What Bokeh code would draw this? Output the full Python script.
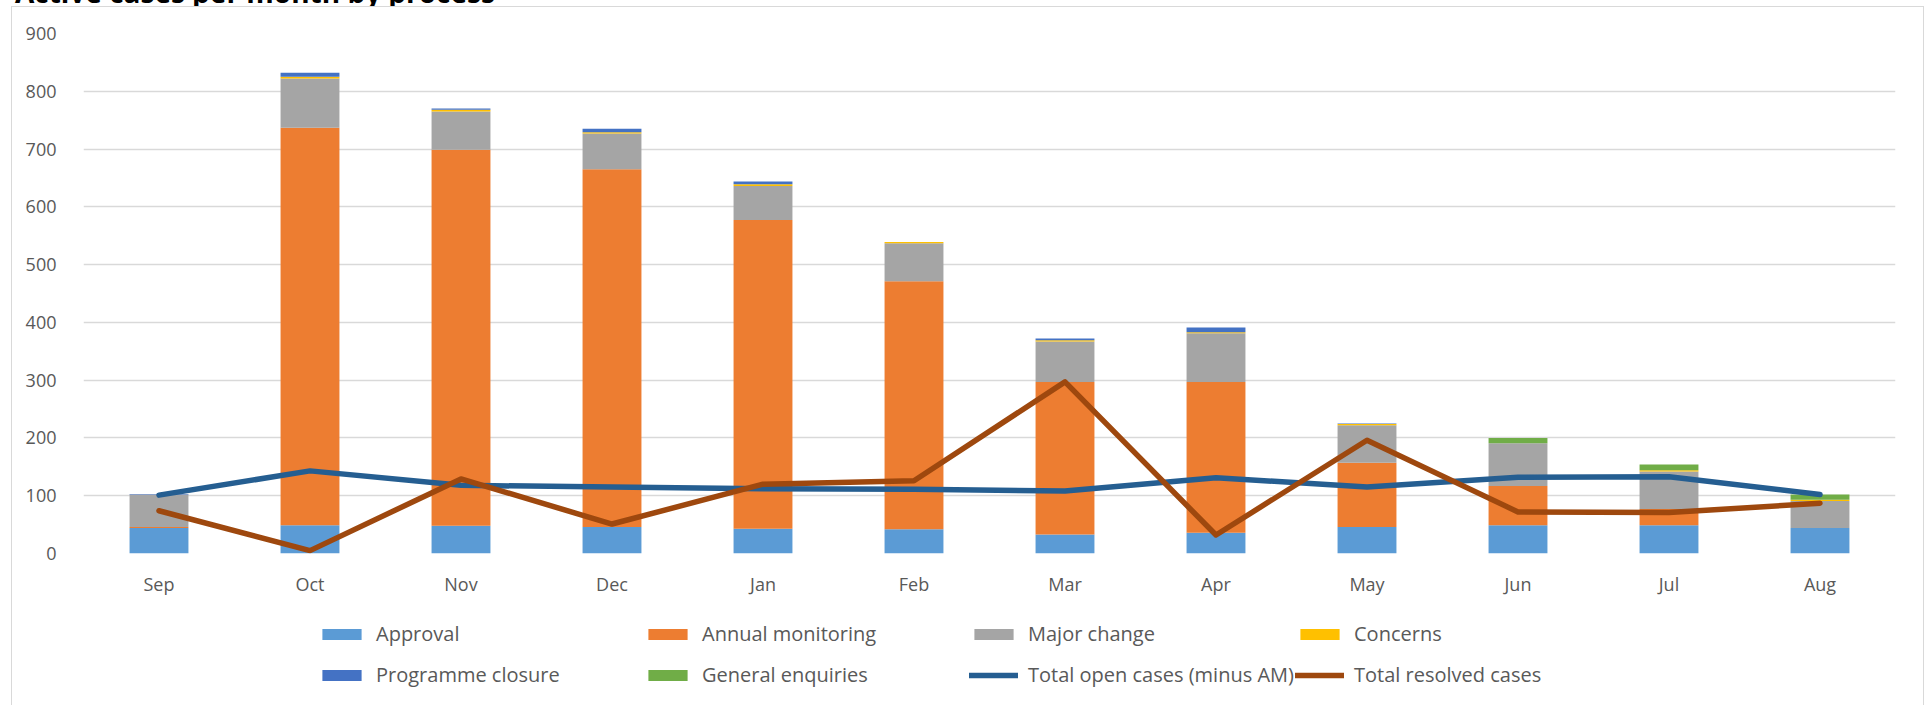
from bokeh.plotting import figure
from bokeh.layouts import column
from bokeh.models import (ColumnDataSource, FactorRange, Range1d, FixedTicker, Legend,
                          LegendItem, Div)
from bokeh.embed import file_html
from bokeh.resources import INLINE

months = ["Sep", "Oct", "Nov", "Dec", "Jan", "Feb", "Mar", "Apr", "May", "Jun", "Jul", "Aug"]
approval = [44, 49, 48, 46, 43, 42, 33, 36, 46, 49, 49, 44]
annual_monitoring = [2, 688, 651, 619, 534, 429, 264, 261, 111, 68, 28, 0]
major_change = [56, 85, 66, 62, 59, 66, 70, 84, 65, 74, 65, 47]
concerns = [0, 3, 3, 2, 3, 2, 2, 2, 2, 0, 2, 2]
programme_closure = [1, 7, 2, 6, 5, 0, 3, 8, 1, 0, 0, 0]
general_enquiries = [0, 0, 0, 0, 0, 0, 0, 0, 0, 9, 10, 9]
total_open = [101, 143, 118, 115, 112, 111, 108, 131, 115, 132, 133, 102]
total_resolved = [74, 5, 129, 51, 120, 126, 297, 32, 196, 72, 71, 87]
y_ticks = [0, 100, 200, 300, 400, 500, 600, 700, 800, 900]
chart_title = "Active cases per month by process"

stack_keys = ["approval", "annual", "major", "concerns", "closure", "general"]
stack_names = ["Approval", "Annual monitoring", "Major change", "Concerns",
               "Programme closure", "General enquiries"]
stack_colors = ["#5B9BD5", "#ED7D31", "#A5A5A5", "#FFC000", "#4472C4", "#70AD47"]
line_names = ["Total open cases (minus AM)", "Total resolved cases"]
line_colors = ["#255E91", "#9E480E"]

source = ColumnDataSource(dict(
    months=months, approval=approval, annual=annual_monitoring, major=major_change,
    concerns=concerns, closure=programme_closure, general=general_enquiries,
    total_open=total_open, total_resolved=total_resolved,
))

FONT = "Open Sans"
TXT = "#595959"
BORDER = "#D9D9D9"
NAN = float("nan")


def strip(w, h):
    fig = figure(width=w, height=h, output_backend="svg", toolbar_location=None,
                 min_border=0, x_axis_location=None, y_axis_location=None,
                 x_range=Range1d(0, w), y_range=Range1d(0, h))
    fig.outline_line_color = None
    fig.background_fill_color = "white"
    fig.border_fill_color = "white"
    fig.grid.visible = False
    return fig


# ---- title (mostly above the visible page, as in the reference)
title_div = Div(
    text=(f'<div style="font-family: \'{FONT}\'; font-weight: bold; font-size: 28px; '
          f'line-height: 28px; color: black; white-space: nowrap; position: relative; '
          f'top: -22px; left: 15px;">{chart_title}</div>'),
    width=1928, height=6, margin=0, styles={"overflow": "hidden"})

# ---- main chart
p = figure(width=1911, height=591, x_range=FactorRange(*months), y_range=Range1d(0, 900),
           output_backend="svg", toolbar_location=None,
           min_border_left=71, min_border_right=28, min_border_top=26, min_border_bottom=45)
p.outline_line_color = None
p.background_fill_color = "white"
p.border_fill_color = "white"

p.vbar_stack(stack_keys, x="months", width=0.39, color=stack_colors, source=source,
             line_color=None)
p.line("months", "total_open", source=source, line_color=line_colors[0], line_width=5.5,
       line_cap="round", line_join="round")
p.line("months", "total_resolved", source=source, line_color=line_colors[1], line_width=5.5,
       line_cap="round", line_join="round")

p.yaxis.ticker = FixedTicker(ticks=y_ticks)
for ax in (p.xaxis[0], p.yaxis[0]):
    ax.axis_line_color = None
    ax.major_tick_line_color = None
    ax.minor_tick_line_color = None
    ax.major_label_text_font = FONT
    ax.major_label_text_font_size = "18px"
    ax.major_label_text_color = TXT
p.yaxis.major_label_standoff = 21
p.xaxis.major_label_standoff = 12
p.xgrid.grid_line_color = None
p.ygrid.grid_line_color = BORDER
p.ygrid.grid_line_width = 1.5

# ---- legend strip (swatch renderers hold no visible data)
lfig = strip(1911, 107)
swatches = [lfig.vbar(x=[NAN], top=[NAN], width=0.1, fill_color=c, line_color=None)
            for c in stack_colors]
swatches += [lfig.line(x=[NAN, NAN], y=[NAN, NAN], line_color=c, line_width=5.5,
                       line_cap="round") for c in line_colors]
labels = stack_names + line_names
rows = [(list(range(0, 4)), 58), (list(range(4, 8)), 17)]
for idx, vy in rows:
    lg = Legend(items=[LegendItem(label=labels[i], renderers=[swatches[i]]) for i in idx],
                orientation="horizontal", location=(234, vy),
                glyph_width=49, glyph_height=14, label_standoff=10, label_width=267,
                label_height=14, spacing=0, padding=0, margin=0,
                border_line_color=None, background_fill_alpha=0,
                label_text_font=FONT, label_text_font_size="20px", label_text_color=TXT)
    lfig.add_layout(lg, "center")

box = column(p, lfig, spacing=0,
             styles={"margin-left": "11px", "border-left": f"1.5px solid {BORDER}",
                     "border-top": f"1.5px solid {BORDER}",
                     "border-right": f"1.5px solid {BORDER}"})
layout = column(title_div, box, spacing=0)

open("out.html", "w").write(file_html(layout, INLINE))
